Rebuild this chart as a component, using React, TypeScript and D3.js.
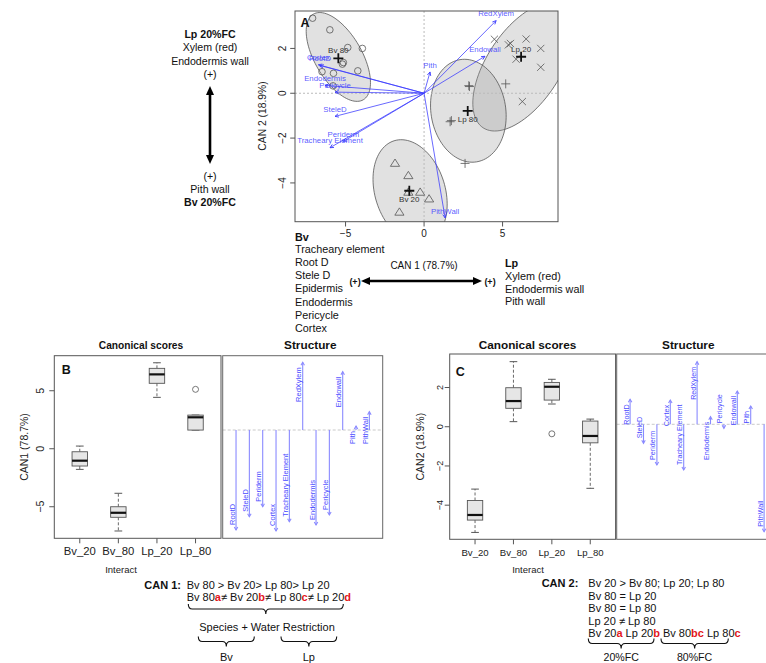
import React from 'react';
import * as d3 from 'd3';

const FONT = '"Liberation Sans", Arial, Helvetica, sans-serif';

// ---- panel A : canonical space ----
const bv80Pts = [[-7.1, 3.35], [-6.0, 2.83], [-4.86, 2.04], [-3.93, 2.0], [-5.14, 1.37], [-5.2, 1.3], [-4.22, 1.0], [-6.5, 0.96], [-5.77, 0.89], [-5.8, 0.33]];
const bv20Pts = [[-1.85, -3.13], [-1.0, -3.68], [-1.0, -4.42], [-0.25, -4.42], [0.32, -4.72], [-1.57, -5.31]];
const lp20Pts = [[4.48, 2.41], [5.37, 2.16], [5.5, 2.22], [6.5, 2.42], [7.43, 2.0], [5.86, 1.52], [7.43, 1.16], [6.26, -0.37]];
const lp80Pts = [[2.89, 0.3], [2.85, 0.34], [5.2, 0.42], [1.66, -1.27], [1.74, -1.22], [2.61, -3.13]];

const groupLabels = ['Bv 80', 'Bv 20', 'Lp 20', 'Lp 80'];
const centroidX = [-5.46, -0.94, 6.18, 2.78];
const centroidY = [1.56, -4.35, 1.63, -0.79];
// ellipse centre and two conjugate half axes, data units
const ellipseC = [[-5.46, 1.62], [-0.89, -4.39], [6.33, 1.19], [2.82, -0.78]];
const ellipseU = [[1.59, -1.91], [1.02, -2.27], [2.57, 2.73], [0.53, -2.28]];
const ellipseV = [[1.29, 0.53], [2.13, 0.47], [1.95, -0.9], [2.35, 0.27]];

const vecNames = ['RedXylem', 'Endowall', 'Pith', 'PithWall', 'RootD', 'Cortex', 'Endodermis', 'Pericycle', 'SteleD', 'Periderm', 'Tracheary Element'];
const vecX = [4.59, 3.88, 0.38, 1.34, -6.63, -6.73, -6.31, -5.67, -5.67, -5.14, -5.99];
const vecY = [3.24, 1.65, 0.95, -5.56, 1.24, 1.27, 0.35, 0.05, -1.03, -2.15, -2.43];

const ticksAX = [-5, 0, 5];
const ticksAY = [-4, -2, 0, 2];

// ---- panels B / C : boxplots of canonical scores ----
const groups = ['Bv_20', 'Bv_80', 'Lp_20', 'Lp_80'];
// [lower whisker, q1, median, q3, upper whisker]
const can1Box = [[-1.78, -1.49, -1.03, -0.26, 0.23], [-7.09, -5.91, -5.52, -5.0, -3.84], [4.43, 5.64, 6.41, 6.93, 7.41], [1.61, 1.61, 2.71, 2.9, 2.9]];
const can1Out = [[], [], [], [5.12]];
const can2Box = [[-5.39, -4.76, -4.5, -3.76, -3.18], [0.26, 0.94, 1.31, 1.99, 3.32], [1.16, 1.36, 2.04, 2.26, 2.42], [-3.14, -0.82, -0.47, 0.29, 0.39]];
const can2Out = [[], [], [-0.36], []];
const can1Ticks = [-5, 0, 5];
const can2Ticks = [-4, -2, 0, 2];

// structure coefficients
const structVars = ['RootD', 'SteleD', 'Periderm', 'Cortex', 'Tracheary Element', 'RedXylem', 'Endodermis', 'Pericycle', 'Endowall', 'Pith', 'PithWall'];
const structCan1 = [-1.0, -0.867, -0.767, -1.01, -0.917, 0.677, -0.95, -0.85, 0.583, 0.04, 0.183];
const structCan2 = [0.25, -0.19, -0.407, 0.243, -0.457, 0.626, 0.076, -0.04, 0.333, 0.183, -1.074];

// ---- annotation text ----
const leftTop = ['Lp 20%FC', 'Xylem (red)', 'Endodermis wall', '(+)'];
const leftBottom = ['(+)', 'Pith wall', 'Bv 20%FC'];
const bvList = ['Bv', 'Tracheary element', 'Root D', 'Stele D', 'Epidermis', 'Endodermis', 'Pericycle', 'Cortex'];
const lpList = ['Lp', 'Xylem (red)', 'Endodermis wall', 'Pith wall'];
const can1Order = 'Bv 80 > Bv 20> Lp 80> Lp 20';
const can1Sig = [['Bv 80', 'a'], ['≠ Bv 20', 'b'], ['≠ Lp 80', 'c'], ['≠ Lp 20', 'd']];
const can2Lines = ['Bv 20 > Bv 80; Lp 20; Lp 80', 'Bv 80 = Lp 20', 'Bv 80 = Lp 80', 'Lp 20 ≠ Lp 80'];
const can2Sig = [['Bv 20', 'a'], [' Lp 20', 'b'], [' Bv 80', 'bc'], [' Lp 80', 'c']];

const RED = '#e3161b';
const BLUE = '#3a3aff';

const head = (x1: number, y1: number, x2: number, y2: number, len = 4, ang = Math.PI / 7) => {
  const a = Math.atan2(y2 - y1, x2 - x1);
  return `M${x2 - len * Math.cos(a - ang)},${y2 - len * Math.sin(a - ang)}L${x2},${y2}L${x2 - len * Math.cos(a + ang)},${y2 - len * Math.sin(a + ang)}`;
};

const filledHead = (x1: number, y1: number, x2: number, y2: number, len = 9, w = 4) => {
  const a = Math.atan2(y2 - y1, x2 - x1);
  const bx = x2 - len * Math.cos(a), by = y2 - len * Math.sin(a);
  const px = -Math.sin(a) * w, py = Math.cos(a) * w;
  return `M${x2},${y2}L${bx + px},${by + py}L${bx - px},${by - py}Z`;
};

const brace = (x1: number, x2: number, y0: number) => {
  const xm = (x1 + x2) / 2, r = 4, y1 = y0 + 5, y2 = y0 + 10;
  return `M${x1},${y0}Q${x1},${y1} ${x1 + r},${y1}L${xm - r},${y1}Q${xm},${y1} ${xm},${y2}Q${xm},${y1} ${xm + r},${y1}L${x2 - r},${y1}Q${x2},${y1} ${x2},${y0}`;
};

function PanelA() {
  const x = d3.scaleLinear().domain([-8.22, 8.53]).range([295, 558]);
  const y = d3.scaleLinear().domain([-5.73, 3.67]).range([221.7, 11]);
  const ell = ellipseC.map((c, i) => {
    const pts = d3.range(0, 101).map(k => {
      const t = (k / 100) * Math.PI * 2;
      return [x(c[0] + ellipseU[i][0] * Math.cos(t) + ellipseV[i][0] * Math.sin(t)),
              y(c[1] + ellipseU[i][1] * Math.cos(t) + ellipseV[i][1] * Math.sin(t))] as [number, number];
    });
    return d3.line().curve(d3.curveLinearClosed)(pts) as string;
  });
  const ptStroke = '#555';
  return (
    <g>
      <defs>
        <clipPath id="clipA"><rect x={295} y={11} width={263} height={210.7} /></clipPath>
      </defs>
      <g clipPath="url(#clipA)">
        {ell.map((d, i) => <path key={i} d={d} fill="#9a9a9a" fillOpacity={0.3} stroke="#555" strokeWidth={0.8} />)}
        <line x1={x(0)} x2={x(0)} y1={11} y2={221.7} stroke="#bbb" strokeDasharray="2,2" />
        <line x1={295} x2={558} y1={y(0)} y2={y(0)} stroke="#bbb" strokeDasharray="2,2" />
        {bv80Pts.map((p, i) => <circle key={'c' + i} cx={x(p[0])} cy={y(p[1])} r={3.3} fill="none" stroke={ptStroke} strokeWidth={0.8} />)}
        {bv20Pts.map((p, i) => <path key={'t' + i} transform={`translate(${x(p[0])},${y(p[1])})`} d="M0,-4.4L4.6,2.9L-4.6,2.9Z" fill="none" stroke={ptStroke} strokeWidth={0.8} />)}
        {lp20Pts.map((p, i) => <path key={'x' + i} transform={`translate(${x(p[0])},${y(p[1])})`} d="M-3.6,-3.6L3.6,3.6M-3.6,3.6L3.6,-3.6" stroke={ptStroke} strokeWidth={0.8} />)}
        {lp80Pts.map((p, i) => <path key={'p' + i} transform={`translate(${x(p[0])},${y(p[1])})`} d="M-4.5,0L4.5,0M0,-4.5L0,4.5" stroke={ptStroke} strokeWidth={0.8} />)}
        {vecNames.map((n, i) => {
          const x1 = x(0), y1 = y(0), x2 = x(vecX[i]), y2 = y(vecY[i]);
          return (
            <g key={n}>
              <line x1={x1} y1={y1} x2={x2} y2={y2} stroke={BLUE} strokeWidth={0.9} strokeOpacity={0.85} />
              <path d={head(x1, y1, x2, y2)} fill="none" stroke={BLUE} strokeWidth={0.9} />
              <text x={x2} y={y2 - 4.3} textAnchor="middle" fontSize={7.8} fill={BLUE} fillOpacity={0.85}>{n}</text>
            </g>
          );
        })}
        {groupLabels.map((g, i) => (
          <g key={g}>
            <path transform={`translate(${x(centroidX[i])},${y(centroidY[i])})`} d="M-5,0L5,0M0,-5L0,5" stroke="#111" strokeWidth={1.8} />
            <text x={x(centroidX[i])} y={y(centroidY[i]) + (centroidY[i] > 0 ? -5 : 11)} textAnchor="middle" fontSize={8} fill="#333">{g}</text>
          </g>
        ))}
      </g>
      <rect x={295} y={11} width={263} height={210.7} fill="none" stroke="#555" strokeWidth={1} />
      <text x={300.5} y={27.3} fontSize={12.5} fontWeight="bold" fill="#111">A</text>
      {ticksAX.map(t => (
        <g key={t}>
          <line x1={x(t)} x2={x(t)} y1={221.7} y2={226.5} stroke="#555" />
          <text x={x(t)} y={237} textAnchor="middle" fontSize={10} fill="#222">{t < 0 ? '−' + Math.abs(t) : t}</text>
        </g>
      ))}
      {ticksAY.map(t => (
        <g key={t}>
          <line x1={295} x2={290.2} y1={y(t)} y2={y(t)} stroke="#555" />
          <text transform={`translate(${286},${y(t)}) rotate(-90)`} textAnchor="middle" fontSize={10} fill="#222">{t < 0 ? '−' + Math.abs(t) : t}</text>
        </g>
      ))}
      <text transform={`translate(${266},${116}) rotate(-90)`} textAnchor="middle" fontSize={10.3} fill="#222">CAN 2 (18.9%)</text>
    </g>
  );
}

function BoxPanel({ left, right, top, bottom, ylo, yhi, stats, outs, ticks, label, ylab, tickFs, tickX, ylabX, letter, letterX, letterY }: any) {
  const x = d3.scaleLinear().domain([0.34, 4.66]).range([left, right]);
  const y = d3.scaleLinear().domain([ylo, yhi]).range([bottom, top]);
  const bw = (x(1.4) - x(1)) / 2 * 2;
  return (
    <g>
      {stats.map((s: number[], i: number) => {
        const cx = x(i + 1);
        return (
          <g key={i}>
            <line x1={cx} x2={cx} y1={y(s[3])} y2={y(s[4])} stroke="#444" strokeWidth={0.8} strokeDasharray="3,2" />
            <line x1={cx} x2={cx} y1={y(s[1])} y2={y(s[0])} stroke="#444" strokeWidth={0.8} strokeDasharray="3,2" />
            <line x1={cx - bw / 4} x2={cx + bw / 4} y1={y(s[4])} y2={y(s[4])} stroke="#444" strokeWidth={0.9} />
            <line x1={cx - bw / 4} x2={cx + bw / 4} y1={y(s[0])} y2={y(s[0])} stroke="#444" strokeWidth={0.9} />
            <rect x={cx - bw / 2} y={y(s[3])} width={bw} height={y(s[1]) - y(s[3])} fill="#e6e6e6" stroke="#555" strokeWidth={0.9} />
            <line x1={cx - bw / 2} x2={cx + bw / 2} y1={y(s[2])} y2={y(s[2])} stroke="#111" strokeWidth={2.2} />
            {outs[i].map((o: number, k: number) => <circle key={k} cx={cx} cy={y(o)} r={3} fill="none" stroke="#555" strokeWidth={0.8} />)}
            <line x1={cx} x2={cx} y1={bottom} y2={bottom + 5} stroke="#555" />
            <text x={cx} y={bottom + 17} textAnchor="middle" fontSize={tickFs} fill="#222">{groups[i]}</text>
          </g>
        );
      })}
      <rect x={left} y={top} width={right - left} height={bottom - top} fill="none" stroke="#555" strokeWidth={1} />
      {ticks.map((t: number) => (
        <g key={t}>
          <line x1={left} x2={left - 5} y1={y(t)} y2={y(t)} stroke="#555" />
          <text transform={`translate(${tickX},${y(t)}) rotate(-90)`} textAnchor="middle" dy="0.35em" fontSize={tickFs * 0.95} fill="#222">{t < 0 ? '−' + Math.abs(t) : t}</text>
        </g>
      ))}
      <text transform={`translate(${ylabX},${(top + bottom) / 2}) rotate(-90)`} textAnchor="middle" dy="0.35em" fontSize={10.5} fill="#222">{ylab}</text>
      <text x={label} y={573} textAnchor="middle" fontSize={9.5} fill="#222">Interact</text>
      <text x={letterX} y={letterY} fontSize={12.5} fontWeight="bold" fill="#111">{letter}</text>
    </g>
  );
}

function StructPanel({ left, right, top, bottom, ylo, yhi, values, fs }: any) {
  const x = d3.scaleLinear().domain([0, 12]).range([left, right]);
  const y = d3.scaleLinear().domain([ylo, yhi]).range([bottom, top]);
  const line = '#8a8aff';
  return (
    <g>
      <line x1={left} x2={right} y1={y(0)} y2={y(0)} stroke="#bbb" strokeWidth={0.8} strokeDasharray="3,2" />
      {structVars.map((v, i) => {
        const cx = x(i + 1), y0 = y(0), y1 = y(values[i]);
        const up = values[i] > 0;
        return (
          <g key={v}>
            <line x1={cx} x2={cx} y1={y0} y2={y1} stroke={line} strokeWidth={1.1} />
            <path d={head(cx, y0, cx, y1, 3.5, Math.PI / 6)} fill="none" stroke={line} strokeWidth={1.1} />
            <text transform={`translate(${cx - 1.5},${up ? y1 + 5 : y1 - 5}) rotate(-90)`} textAnchor={up ? 'end' : 'start'} fontSize={fs} fill="#4a4aff">{v}</text>
          </g>
        );
      })}
      <rect x={left} y={top} width={right - left} height={bottom - top} fill="none" stroke="#666" strokeWidth={1} />
    </g>
  );
}

function SigLine({ x, y, parts }: any) {
  return (
    <text x={x} y={y} fontSize={11} fill="#111">
      {parts.map((p: string[], i: number) => (
        <React.Fragment key={i}>
          <tspan>{p[0]}</tspan>
          <tspan fill={RED} fontWeight="bold">{p[1]}</tspan>
        </React.Fragment>
      ))}
    </text>
  );
}

export default function App() {
  return (
    <svg width={766} height={663} style={{ position: 'absolute', left: 0, top: 0, background: '#fff' }} fontFamily={FONT}>
      <rect width={766} height={663} fill="#fff" />
      <PanelA />

      {/* left annotation of A */}
      {leftTop.map((t, i) => (
        <text key={'lt' + i} x={210} y={38 + i * 13.3} textAnchor="middle" fontSize={10.6} fontWeight={i === 0 ? 'bold' : 'normal'} fill="#111">{t}</text>
      ))}
      <line x1={210} x2={210} y1={94} y2={156} stroke="#000" strokeWidth={2.6} />
      <path d={filledHead(210, 120, 210, 86)} fill="#000" />
      <path d={filledHead(210, 120, 210, 164)} fill="#000" />
      {leftBottom.map((t, i) => (
        <text key={'lb' + i} x={210} y={179.5 + i * 13} textAnchor="middle" fontSize={10.6} fontWeight={i === 2 ? 'bold' : 'normal'} fill="#111">{t}</text>
      ))}

      {/* bottom annotation of A */}
      {bvList.map((t, i) => (
        <text key={'bv' + i} x={295} y={i === 0 ? 241 : 253.3 + (i - 1) * 13.05} fontSize={10.8} fontWeight={i === 0 ? 'bold' : 'normal'} fill="#111">{t}</text>
      ))}
      {lpList.map((t, i) => (
        <text key={'lp' + i} x={505} y={267 + i * 12.8} fontSize={10.8} fontWeight={i === 0 ? 'bold' : 'normal'} fill="#111">{t}</text>
      ))}
      <text x={424} y={268.5} textAnchor="middle" fontSize={10} fill="#111">CAN 1 (78.7%)</text>
      <line x1={369} x2={474} y1={281} y2={281} stroke="#000" strokeWidth={2.6} />
      <path d={filledHead(420, 281, 361, 281)} fill="#000" />
      <path d={filledHead(420, 281, 482, 281)} fill="#000" />
      <text x={355} y={284.5} textAnchor="middle" fontSize={9} fontWeight="bold" fill="#111">(+)</text>
      <text x={490} y={284.5} textAnchor="middle" fontSize={9} fontWeight="bold" fill="#111">(+)</text>

      {/* panel titles */}
      <text x={141} y={348.5} textAnchor="middle" fontSize={10.2} fontWeight="bold" fill="#111">Canonical scores</text>
      <text x={310.3} y={348.5} textAnchor="middle" fontSize={11.8} fontWeight="bold" fill="#111">Structure</text>
      <text x={527.5} y={348.5} textAnchor="middle" fontSize={11.8} fontWeight="bold" fill="#111">Canonical scores</text>
      <text x={688.3} y={348.5} textAnchor="middle" fontSize={11.8} fontWeight="bold" fill="#111">Structure</text>

      <BoxPanel left={54.3} right={221} top={355.7} bottom={538.3} ylo={-7.72} yhi={8.02} stats={can1Box} outs={can1Out}
        ticks={can1Ticks} label={121} ylab="CAN1 (78.7%)" tickFs={11.3} tickX={40} ylabX={24} letter="B" letterX={61.7} letterY={374} />
      <StructPanel left={222.7} right={382.7} top={355.7} bottom={538.3} ylo={-1.083} yhi={0.743} values={structCan1} fs={7.5} />

      <BoxPanel left={449.7} right={615.6} top={354} bottom={539.3} ylo={-5.74} yhi={3.71} stats={can2Box} outs={can2Out}
        ticks={can2Ticks} label={528} ylab="CAN2 (18.9%)" tickFs={9.6} tickX={440} ylabX={420} letter="C" letterX={455.7} letterY={375.7} />
      <StructPanel left={616.7} right={777.5} top={354} bottom={539.3} ylo={-1.15} yhi={0.703} values={structCan2} fs={7.2} />

      {/* CAN 1 summary */}
      <text x={181} y={589} textAnchor="end" fontSize={11} fontWeight="bold" fill="#111">CAN 1:</text>
      <text x={186.7} y={589} fontSize={11} fill="#111">{can1Order}</text>
      <SigLine x={186.7} y={600.7} parts={can1Sig} />
      <path d={brace(188.3, 343.3, 604)} fill="none" stroke="#111" strokeWidth={1.1} />
      <text x={267} y={631} textAnchor="middle" fontSize={11} fill="#111">Species + Water Restriction</text>
      <path d={brace(198.3, 254.3, 636.5)} fill="none" stroke="#111" strokeWidth={1.1} />
      <path d={brace(281, 336.7, 636.5)} fill="none" stroke="#111" strokeWidth={1.1} />
      <text x={226.3} y={660.5} textAnchor="middle" fontSize={11} fill="#111">Bv</text>
      <text x={308.8} y={660.5} textAnchor="middle" fontSize={11} fill="#111">Lp</text>

      {/* CAN 2 summary */}
      <text x={578.3} y={587.2} textAnchor="end" fontSize={11} fontWeight="bold" fill="#111">CAN 2:</text>
      {can2Lines.map((t, i) => (
        <text key={'c2' + i} x={588.3} y={587.2 + i * 12.5} fontSize={11} fill="#111">{t}</text>
      ))}
      <SigLine x={588.3} y={637.2} parts={can2Sig} />
      <path d={brace(588.3, 654, 638.5)} fill="none" stroke="#111" strokeWidth={1.1} />
      <path d={brace(661, 728.3, 638.5)} fill="none" stroke="#111" strokeWidth={1.1} />
      <text x={621.2} y={660.8} textAnchor="middle" fontSize={10.6} fill="#111">20%FC</text>
      <text x={694.6} y={660.8} textAnchor="middle" fontSize={10.6} fill="#111">80%FC</text>
    </svg>
  );
}
